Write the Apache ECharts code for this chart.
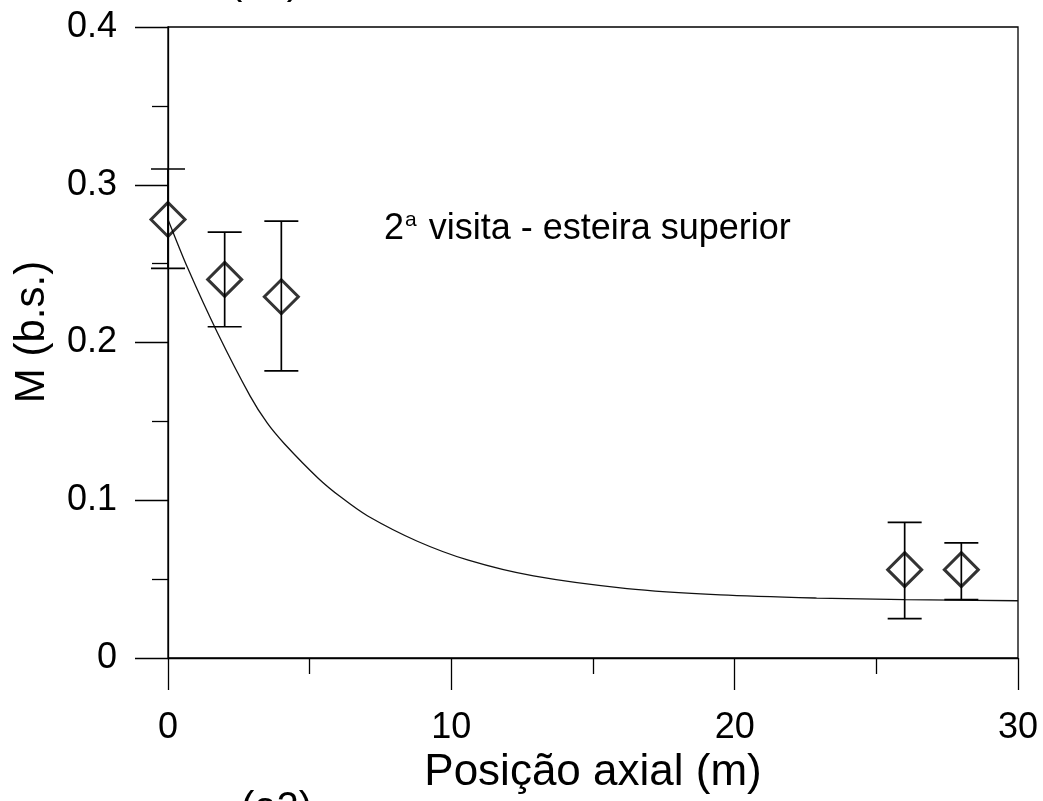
<!DOCTYPE html>
<html>
<head>
<meta charset="utf-8">
<script src="https://cdn.jsdelivr.net/npm/echarts@6/dist/echarts.min.js"></script>
<style>
  html, body { margin: 0; padding: 0; background: #fff; }
  #chart { width: 1043px; height: 801px; }
</style>
</head>
<body>
<div id="chart"></div>
<script>
// medidas (posicao axial, M medio, limites da barra de erro)
var posX = [0, 2, 4, 26, 28];
var medM = [0.278, 0.240, 0.229, 0.056, 0.056];
var errHi = [0.310, 0.270, 0.277, 0.086, 0.073];
var errLo = [0.247, 0.210, 0.182, 0.025, 0.037];

// curva ajustada
var curvaX = [0, 0.7, 1.75, 2.9, 3.5, 4.1, 5.3, 6.1, 7.05, 8.8, 10.6, 12.9, 16.2, 19.5, 22.9, 26, 30];
var curvaM = [0.278, 0.247, 0.206, 0.166, 0.149, 0.136, 0.114, 0.102, 0.090, 0.074, 0.062, 0.052, 0.044, 0.040, 0.038, 0.037, 0.0363];

var xTicks = [0, 10, 20, 30];
var yTicks = [0, 0.1, 0.2, 0.3, 0.4];

var fonte = '"Liberation Sans", Arial, Helvetica, sans-serif';

var myChart = echarts.init(document.getElementById('chart'));

var pontos = posX.map(function (x, i) { return [x, medM[i]]; });
var barras = posX.map(function (x, i) { return [x, errLo[i], errHi[i]]; });
var curva = curvaX.map(function (x, i) { return [x, curvaM[i]]; });

var option = {
  animation: false,
  backgroundColor: '#fff',
  grid: {
    left: 168,
    right: 25,
    top: 27,
    bottom: 143,
    show: true,
    borderColor: '#000',
    borderWidth: 1.3
  },
  xAxis: {
    type: 'value',
    min: xTicks[0],
    max: xTicks[xTicks.length - 1],
    interval: 10,
    name: 'Posição axial (m)',
    nameLocation: 'middle',
    nameGap: 87,
    nameTextStyle: { fontFamily: fonte, fontSize: 44, color: '#000' },
    axisLine: { show: true, lineStyle: { color: '#000', width: 1.3 } },
    axisTick: { show: true, inside: false, length: 32, lineStyle: { color: '#000', width: 1.3 } },
    minorTick: { show: true, splitNumber: 2, length: 16, lineStyle: { color: '#000', width: 1.3 } },
    splitLine: { show: false },
    axisLabel: { fontFamily: fonte, fontSize: 36, color: '#000', margin: 52 }
  },
  yAxis: {
    type: 'value',
    min: yTicks[0],
    max: yTicks[yTicks.length - 1],
    interval: 0.1,
    axisLine: { show: true, lineStyle: { color: '#000', width: 1.3 } },
    axisTick: { show: true, inside: false, length: 33, lineStyle: { color: '#000', width: 1.3 } },
    minorTick: { show: true, splitNumber: 2, length: 16, lineStyle: { color: '#000', width: 1.3 } },
    splitLine: { show: false },
    axisLabel: { fontFamily: fonte, fontSize: 36, color: '#000', margin: 51 }
  },
  series: [
    {
      type: 'line',
      data: curva,
      smooth: 0.3,
      symbol: 'none',
      lineStyle: { color: '#111', width: 1.3 },
      z: 2
    },
    {
      type: 'custom',
      data: barras,
      renderItem: function (params, api) {
        var x = api.value(0);
        var lo = api.coord([x, api.value(1)]);
        var hi = api.coord([x, api.value(2)]);
        var w = 17;
        var estilo = { stroke: '#000', lineWidth: 1.7 };
        return {
          type: 'group',
          children: [
            { type: 'line', shape: { x1: lo[0], y1: lo[1], x2: hi[0], y2: hi[1] }, style: estilo },
            { type: 'line', shape: { x1: hi[0] - w, y1: hi[1], x2: hi[0] + w, y2: hi[1] }, style: estilo },
            { type: 'line', shape: { x1: lo[0] - w, y1: lo[1], x2: lo[0] + w, y2: lo[1] }, style: estilo }
          ]
        };
      },
      z: 3
    },
    {
      type: 'scatter',
      data: pontos,
      symbol: 'diamond',
      symbolSize: 34,
      itemStyle: { color: 'rgba(0,0,0,0)', borderColor: '#000', borderWidth: 3 },
      z: 4
    }
  ],
  graphic: [
    {
      type: 'text',
      x: 32,
      y: 332,
      rotation: Math.PI / 2,
      style: {
        text: 'M (b.s.)',
        fontFamily: fonte,
        fontSize: 42,
        fill: '#000',
        align: 'center',
        verticalAlign: 'middle'
      }
    },
    {
      type: 'text',
      left: 384,
      top: 210,
      style: {
        text: '{n|2}{s|a}{n| visita - esteira superior}',
        fill: '#000',
        rich: {
          n: { fontFamily: fonte, fontSize: 36, lineHeight: 40, verticalAlign: 'bottom' },
          s: { fontFamily: fonte, fontSize: 21, lineHeight: 40, verticalAlign: 'bottom', padding: [0, 2, 16, 1] }
        }
      }
    },
    {
      type: 'text',
      left: 241,
      top: 789,
      style: { text: '(a2)', fontFamily: fonte, fontSize: 40, fill: '#000' }
    },
    {
      type: 'text',
      left: 229,
      top: -37,
      style: { text: '(a1)', fontFamily: fonte, fontSize: 40, fill: '#000' }
    }
  ]
};

myChart.setOption(option);
</script>
</body>
</html>
